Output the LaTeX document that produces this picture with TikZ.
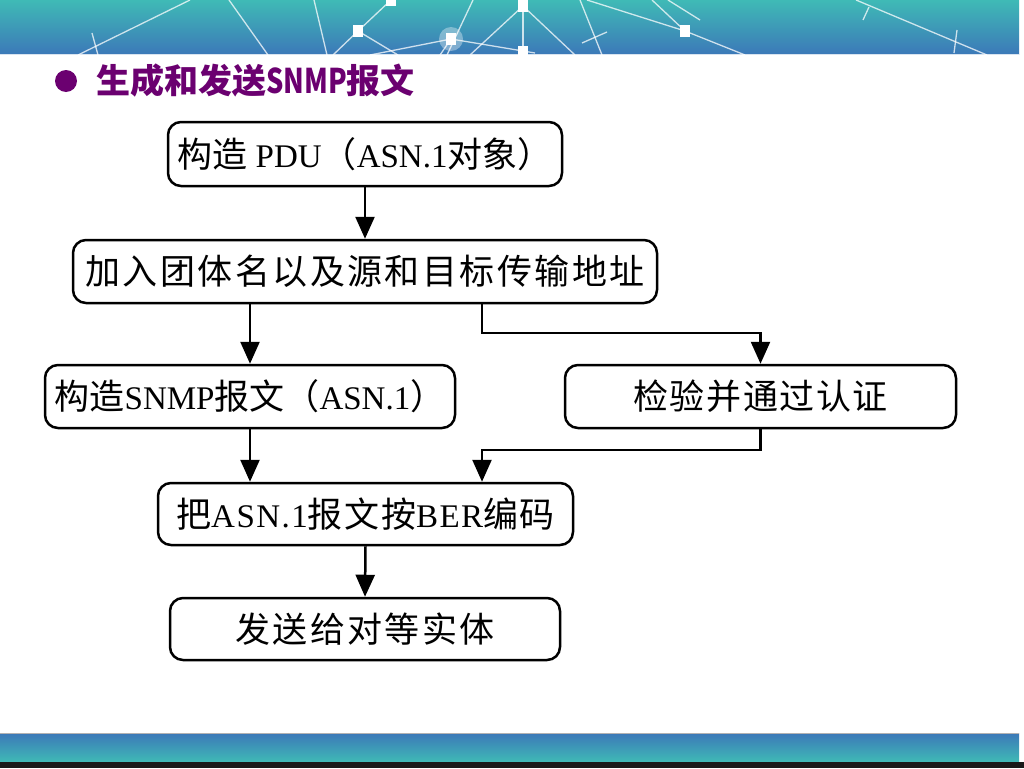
\documentclass[tikz,border=0pt]{standalone}
\usepackage{fontspec}
\setmainfont{Liberation Serif}
\newfontfamily\cjk{Noto Sans CJK SC}
\newfontfamily\cjkS{Noto Sans CJK SC}[LetterSpace=4.5]
\newfontfamily\latS{Liberation Serif}[LetterSpace=4.5]
\newfontfamily\cjkD{Noto Sans CJK SC}[LetterSpace=4.5]
\newfontfamily\cjkF{Noto Sans CJK SC}[LetterSpace=7]
\newfontfamily\cjkW{Noto Sans CJK SC}[LetterSpace=7]
\usetikzlibrary{arrows.meta}
\definecolor{bantop}{HTML}{3FBAB6}
\definecolor{banbot}{HTML}{3C78B8}
\definecolor{titlepurple}{HTML}{6B0070}
\newcommand{\latbig}{\fontsize{33}{38}\selectfont}
\tikzset{
  flowbox/.style={draw=black, line width=2.5pt, rounded corners=13pt, fill=white,
    inner sep=0pt, font=\fontsize{35}{38}\selectfont},
  arr/.style={line width=2.5pt, -{Triangle[length=22pt,width=19pt]}},
  netline/.style={white, line width=1.3pt, opacity=0.75},
  netsq/.style={fill=white, draw=none, minimum width=10pt, minimum height=12pt, inner sep=0pt}
}
\begin{document}
\begin{tikzpicture}[x=1pt,y=-1pt]
\useasboundingbox (0,0) rectangle (1024,768);
\fill[white] (0,0) rectangle (1024,768);
% top banner
\shade[top color=bantop, bottom color=banbot] (0,0) rectangle (1019,55);
\draw[white, line width=1.5pt, opacity=0.8] (0,55) -- (1019,55);
\begin{scope}
\clip (0,0) rectangle (1019,55);
\draw[netline] (190,0) -- (78,55);
\draw[netline] (92,33) -- (98,55);
\draw[netline] (229,0) -- (268,55);
\draw[netline] (314,0) -- (327,55);
\draw[netline] (358,31) -- (391,0);
\draw[netline] (358,31) -- (333,55);
\draw[netline] (358,31) -- (398,55);
\draw[netline] (451,39) -- (370,55);
\draw[netline] (451,39) -- (535,53);
\draw[netline] (451,39) -- (440,55);
\draw[netline] (523,6) -- (470,55);
\draw[netline] (523,6) -- (575,55);
\draw[netline] (523,6) -- (523,52);
\draw[netline] (473,0) -- (447,55);
\draw[netline] (587,0) -- (685,31);
\draw[netline] (652,0) -- (685,31);
\draw[netline] (668,0) -- (700,20);
\draw[netline] (685,31) -- (745,55);
\draw[netline] (580,0) -- (602,55);
\draw[netline] (582,43) -- (607,32);
\draw[netline] (856,0) -- (987,55);
\draw[netline] (869,7) -- (863,20);
\draw[netline] (957,30) -- (954,53);
\fill[white, opacity=0.35] (451,39) circle (12pt);
\node[netsq] (s1) at (358,31) {};
\node[netsq] (s2) at (451,39) {};
\node[netsq] (s3) at (523,6) {};
\node[netsq] (s4) at (523,52) {};
\node[netsq] (s5) at (685,31) {};
\node[netsq] (s6) at (391,0) {};
\end{scope}
% bottom bar
\shade[top color=banbot, bottom color=bantop] (0,733) rectangle (1019,762);
\draw[gray!60, line width=1pt] (0,733) -- (1019,733);
\fill[black!90] (0,762) rectangle (1024,768);
% title
\fill[titlepurple] (66,81) circle (11pt);
\node[anchor=west, text=titlepurple, inner sep=0pt, font=\cjk\bfseries\fontsize{34}{38}\selectfont] (title) at (96,81)
  {生成和发送\scalebox{0.8}[1]{SNMP}报文};
% flow boxes
\node[flowbox, minimum width=394pt, minimum height=64pt] (b1) at (365,154)
  {{\cjk 构造}{\latbig{} PDU}{\cjk （}{\latbig ASN.1}{\cjk 对象）}};
\node[flowbox, minimum width=584pt, minimum height=63pt] (b2) at (365,271.5)
  {\cjkW 加入团体名以及源和目标传输地址};
\node[flowbox, minimum width=410pt, minimum height=63pt] (b3) at (250,396.5)
  {{\cjk 构造}{\latbig SNMP}{\cjk 报文（}{\latbig ASN.1}{\cjk ）}};
\node[flowbox, minimum width=391pt, minimum height=63pt] (b4) at (760.5,396.5)
  {\cjkD 检验并通过认证};
\node[flowbox, minimum width=415pt, minimum height=62pt] (b5) at (365.5,514)
  {{\cjkS 把}{\latS\latbig ASN.1}{\cjkS 报文按}{\latS\latbig BER}{\cjkS 编码}};
\node[flowbox, minimum width=390pt, minimum height=62pt] (b6) at (365,629)
  {\cjkF 发送给对等实体};
% connectors
\coordinate (j1) at (482,333);
\coordinate (j2) at (482,450);
\draw[arr] (b1.south) -- (b2.north);
\draw[arr] (b2.south -| b3.north) -- (b3.north);
\draw[arr] (j1 |- b2.south) -- (j1) -| (b4.north);
\draw[arr] (b3.south) -- (b3.south |- b5.north);
\draw[arr] (b4.south) |- (j2) -- (j2 |- b5.north);
\draw[arr] (b5.south) -- (b6.north);
\end{tikzpicture}
\end{document}
